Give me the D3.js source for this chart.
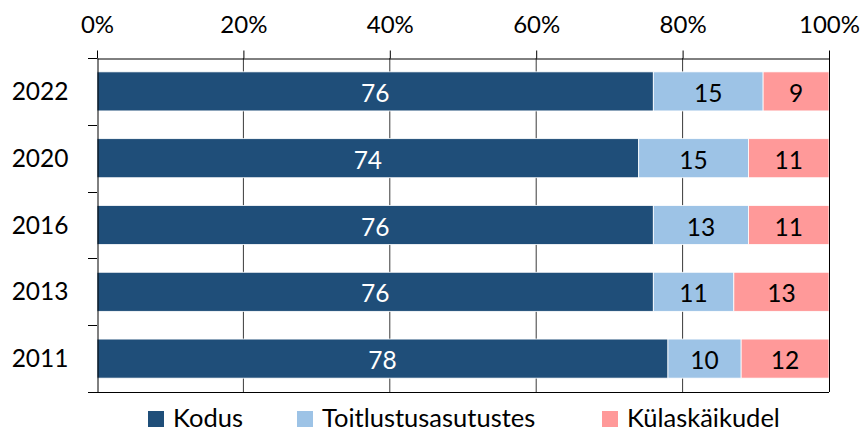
<!DOCTYPE html>
<html><head><meta charset="utf-8">
<script src="https://cdn.jsdelivr.net/npm/d3@7"></script>
<style>body{margin:0;background:#fff}svg{display:block}text{font-family:Lato,"Open Sans",sans-serif}</style>
</head><body>
<svg id="c" width="862" height="432"></svg>
<script>
const years = ["2022","2020","2016","2013","2011"];
const seriesNames = ["Kodus","Toitlustusasutustes","Külaskäikudel"];
const kodus = [76,74,76,76,78];
const toitlustus = [15,15,13,11,10];
const kulas = [9,11,11,13,12];
const tickValues = [0,20,40,60,80,100];
const colors = ["#1F4E79","#9DC3E6","#FF9999"];
const labelColors = ["#ffffff","#000000","#000000"];

(function(){
const svg = d3.select("#c");
const L=97,R=829,T=58,B=392;
const FONT="Lato,'Open Sans',sans-serif";
const x = d3.scaleLinear().domain([0,100]).range([L,R]);
const y = d3.scaleBand().domain(years).range([T,B]).paddingInner(0.415).paddingOuter(0.2075);
const yb = d3.scaleBand().domain(years).range([T,B]);

svg.append("g").selectAll("line").data(tickValues.slice(1,-1)).join("line")
  .attr("x1",d=>x(d)).attr("x2",d=>x(d)).attr("y1",T).attr("y2",B)
  .attr("stroke","#3a3a3a").attr("stroke-width",1);

const data = years.map((yr,i)=>({year:yr,Kodus:kodus[i],Toitlustusasutustes:toitlustus[i],"Külaskäikudel":kulas[i]}));
const stack = d3.stack().keys(seriesNames)(data);

const g = svg.append("g");
stack.forEach((s,si)=>{
  g.selectAll(null).data(s).join("rect")
    .attr("x",d=>x(d[0])).attr("width",d=>x(d[1])-x(d[0]))
    .attr("y",d=>y(d.data.year)).attr("height",y.bandwidth())
    .attr("fill",colors[si]).attr("stroke","#ffffff").attr("stroke-width",0.8);
  g.selectAll(null).data(s).join("text")
    .attr("x",d=>(x(d[0])+x(d[1]))/2).attr("y",d=>y(d.data.year)+y.bandwidth()/2+1)
    .attr("text-anchor","middle").attr("dominant-baseline","central")
    .attr("font-size",24.5).attr("fill",labelColors[si]).attr("font-family",FONT)
    .text(d=>d[1]-d[0]);
});

const xAxis = d3.axisTop(x).tickValues(tickValues).tickFormat(d=>d+"%").tickSize(8).tickSizeOuter(0).tickPadding(0);
const ax = svg.append("g").attr("transform",`translate(0,${T+0.5})`).call(xAxis);
ax.select(".domain").attr("stroke","#000");
ax.selectAll(".tick line").attr("stroke","#000");
ax.selectAll(".tick text").attr("font-size",24).attr("fill","#000").attr("dy",0)
  .attr("y",-26).attr("font-family",FONT);

const yAxis = d3.axisLeft(yb).tickSize(0).tickSizeOuter(0).tickPadding(29);
const ay = svg.append("g").attr("transform",`translate(${L+0.5},0)`).call(yAxis);
ay.select(".domain").attr("stroke","#000");
ay.selectAll(".tick text").attr("font-size",24.5).attr("fill","#000").attr("dy","0.35em")
  .attr("font-family",FONT);
const bounds = years.map(d=>yb(d)).concat([B]);
svg.append("g").selectAll("line").data(bounds).join("line")
  .attr("x1",L-9).attr("x2",L).attr("y1",d=>Math.round(d)+0.5).attr("y2",d=>Math.round(d)+0.5)
  .attr("stroke","#000");
svg.append("line").attr("x1",L).attr("x2",R).attr("y1",B+0.5).attr("y2",B+0.5).attr("stroke","#000");
svg.append("line").attr("x1",R+0.5).attr("x2",R+0.5).attr("y1",T).attr("y2",B).attr("stroke","#000");

const legX = [148,297,602];
const lg = svg.append("g");
seriesNames.forEach((n,i)=>{
  lg.append("rect").attr("x",legX[i]).attr("y",411).attr("width",16).attr("height",16).attr("fill",colors[i]);
  lg.append("text").attr("x",legX[i]+25).attr("y",426.5).attr("font-family",FONT)
    .attr("font-size",25.5).attr("fill","#000").text(n);
});
})();
</script>
</body></html>
